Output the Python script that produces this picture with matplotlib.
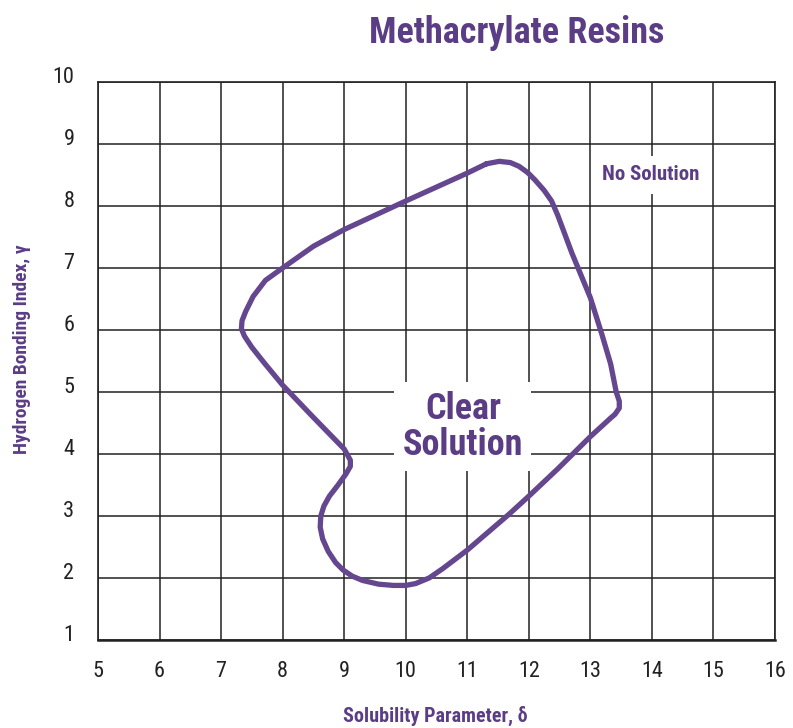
import matplotlib
matplotlib.use('Agg')
import matplotlib.pyplot as plt
import matplotlib.transforms as mtransforms

# axis ticks
x_ticks = [5, 6, 7, 8, 9, 10, 11, 12, 13, 14, 15, 16]
y_ticks = [1, 2, 3, 4, 5, 6, 7, 8, 9, 10]

# boundary of the clear solution region (delta, gamma), clockwise from the top
region_x = [11.31, 11.52, 11.7, 11.84, 11.98, 12.1, 12.25, 12.37, 12.47, 12.7, 13.0, 13.19,
            13.33, 13.42, 13.47, 13.47, 13.4, 13.33, 13.0, 12.47, 12.0, 11.68, 11.0, 10.6,
            10.38, 10.16, 10.0, 9.8, 9.56, 9.3, 9.13, 8.98, 8.86, 8.74, 8.65, 8.61, 8.62,
            8.67, 8.76, 8.9, 9.03, 9.1, 9.1, 9.0, 8.49, 8.0, 7.7, 7.5, 7.38, 7.33, 7.34,
            7.4, 7.52, 7.72, 8.0, 8.5, 9.0, 10.0, 11.0, 11.31]
region_y = [8.68, 8.72, 8.7, 8.64, 8.54, 8.42, 8.25, 8.08, 7.85, 7.24, 6.52, 5.92,
            5.45, 5.0, 4.85, 4.74, 4.64, 4.58, 4.28, 3.76, 3.32, 3.03, 2.45, 2.15,
            2.0, 1.91, 1.88, 1.88, 1.9, 1.96, 2.03, 2.13, 2.25, 2.43, 2.63, 2.82, 3.0,
            3.16, 3.32, 3.5, 3.68, 3.8, 3.9, 4.08, 4.6, 5.11, 5.47, 5.72, 5.9, 6.02, 6.15,
            6.3, 6.54, 6.8, 7.0, 7.35, 7.62, 8.08, 8.53, 8.68]

purple = '#5b3d86'
line_purple = '#64478f'
plt.rcParams['font.family'] = ['Roboto Condensed', 'Roboto', 'DejaVu Sans']

fig = plt.figure(figsize=(7.93, 7.28), dpi=100)
ax = fig.add_axes([0.1236, 0.1209, 0.8537, 0.7665])

ax.set_xlim(5, 16)
ax.set_ylim(1, 10)
ax.set_xticks(x_ticks)
ax.set_yticks(y_ticks)
ax.grid(True, color='#222222', linewidth=1.1)
ax.set_axisbelow(True)
for s in ax.spines.values():
    s.set_color('#222222')
    s.set_linewidth(1.2)
ax.spines['bottom'].set_linewidth(1.8)
ax.tick_params(length=0, labelsize=16, colors='#222222')
ax.tick_params(axis='x', pad=15)
ax.tick_params(axis='y', pad=17)
# y labels sit a little above their grid lines
offset = mtransforms.ScaledTranslation(0, 7 / 100, fig.dpi_scale_trans)
for lab in ax.get_yticklabels():
    lab.set_transform(lab.get_transform() + offset)

ax.plot(region_x, region_y, color=line_purple, linewidth=3.8, solid_joinstyle='round',
        solid_capstyle='round', zorder=3)

ax.text(10.93, 4.44, 'Clear\nSolution', ha='center', va='center', fontsize=26,
        fontweight='bold', color=purple, linespacing=1.0, zorder=4,
        bbox=dict(facecolor='white', edgecolor='none', pad=6))
ax.text(13.98, 8.5, 'No Solution', ha='center', va='center', fontsize=15,
        fontweight='bold', color=purple, zorder=4,
        bbox=dict(facecolor='white', edgecolor='none', pad=7))

fig.text(0.651, 0.955, 'Methacrylate Resins', ha='center', va='center', fontsize=26,
         fontweight='bold', color=purple)
fig.text(0.549, 0.017, 'Solubility Parameter, δ', ha='center', va='center', fontsize=14.5,
         fontweight='bold', color=purple)
fig.text(0.028, 0.521, 'Hydrogen Bonding Index, γ', ha='center', va='center', fontsize=14,
         fontweight='bold', color=purple, rotation=90)

fig.savefig('out.png', dpi=100, facecolor='white')
